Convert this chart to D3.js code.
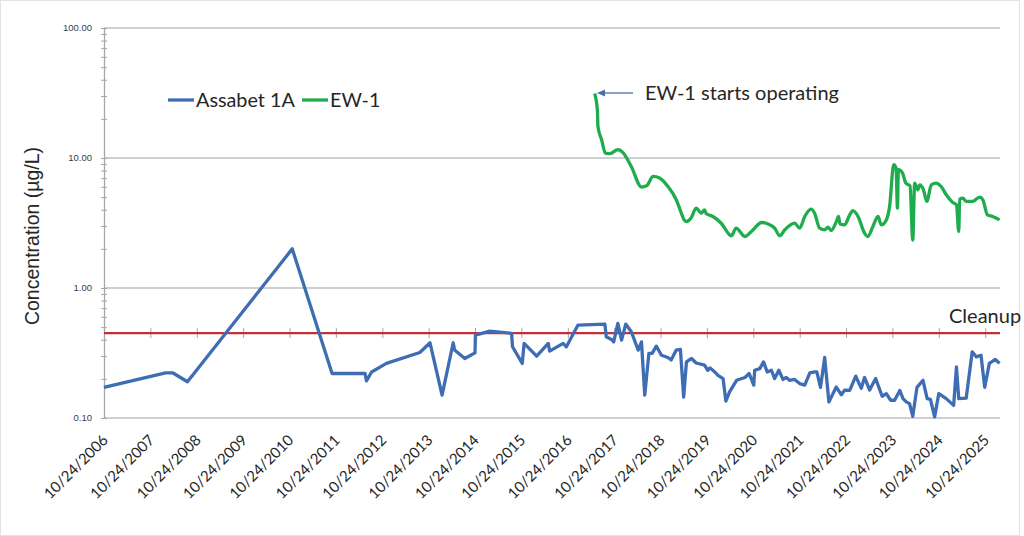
<!DOCTYPE html>
<html><head><meta charset="utf-8">
<script src="https://cdn.jsdelivr.net/npm/d3@7/dist/d3.min.js"></script>
<style>body{margin:0;background:#fff}svg{display:block}</style>
</head><body><svg id="c" width="1024" height="536"></svg>
<script>
// ---- data (dates as decimal years, values in µg/L) ----
const assabetT = [2006.81,2008.14,2008.30,2008.61,2010.87,2011.73,2012.44,2012.47,2012.58,2012.90,2013.62,2013.84,2014.10,2014.34,2014.37,2014.59,2014.81,2014.82,2015.13,2015.60,2015.62,2015.83,2015.87,2016.14,2016.39,2016.42,2016.71,2016.78,2017.03,2017.61,2017.64,2017.75,2017.80,2017.89,2017.97,2018.06,2018.18,2018.33,2018.40,2018.47,2018.56,2018.63,2018.72,2018.83,2018.97,2019.04,2019.15,2019.24,2019.31,2019.37,2019.48,2019.58,2019.76,2019.83,2019.88,2019.98,2020.05,2020.16,2020.22,2020.30,2020.45,2020.63,2020.72,2020.82,2020.84,2020.95,2021.03,2021.11,2021.20,2021.27,2021.36,2021.45,2021.52,2021.59,2021.70,2021.81,2021.92,2022.03,2022.13,2022.18,2022.26,2022.35,2022.44,2022.60,2022.71,2022.78,2022.89,2023.02,2023.14,2023.21,2023.32,2023.45,2023.59,2023.68,2023.77,2023.86,2023.97,2024.04,2024.11,2024.18,2024.25,2024.34,2024.47,2024.56,2024.63,2024.72,2024.81,2024.97,2025.13,2025.19,2025.24,2025.40,2025.53,2025.62,2025.72,2025.80,2025.90,2026.03,2026.12];
const assabetV = [0.172,0.222,0.222,0.190,2.0,0.220,0.220,0.193,0.226,0.263,0.319,0.379,0.150,0.379,0.333,0.287,0.317,0.434,0.466,0.448,0.353,0.263,0.375,0.299,0.375,0.327,0.375,0.353,0.519,0.528,0.421,0.402,0.385,0.535,0.397,0.528,0.461,0.333,0.385,0.150,0.314,0.314,0.357,0.304,0.292,0.279,0.333,0.337,0.145,0.270,0.287,0.265,0.255,0.233,0.243,0.226,0.213,0.201,0.135,0.159,0.195,0.205,0.220,0.179,0.233,0.240,0.270,0.226,0.233,0.201,0.233,0.198,0.205,0.195,0.198,0.184,0.179,0.222,0.226,0.226,0.172,0.292,0.133,0.173,0.151,0.164,0.163,0.210,0.169,0.205,0.164,0.201,0.147,0.154,0.137,0.137,0.163,0.141,0.133,0.129,0.103,0.172,0.195,0.141,0.139,0.102,0.154,0.141,0.125,0.247,0.141,0.142,0.323,0.295,0.304,0.172,0.263,0.282,0.263];
const ew1T = [2017.39,2017.45,2017.46,2017.54,2017.62,2017.72,2017.89,2018.00,2018.18,2018.40,2018.51,2018.65,2018.79,2018.97,2019.15,2019.26,2019.32,2019.37,2019.47,2019.58,2019.69,2019.76,2019.80,2019.94,2020.12,2020.34,2020.44,2020.63,2020.77,2020.99,2021.13,2021.27,2021.38,2021.49,2021.70,2021.81,2021.92,2022.06,2022.13,2022.24,2022.35,2022.42,2022.49,2022.60,2022.65,2022.68,2022.78,2022.89,2022.96,2023.07,2023.21,2023.28,2023.39,2023.50,2023.57,2023.68,2023.75,2023.84,2023.89,2023.92,2023.94,2024.03,2024.10,2024.19,2024.25,2024.29,2024.36,2024.40,2024.48,2024.55,2024.65,2024.75,2024.86,2024.97,2025.11,2025.19,2025.24,2025.26,2025.33,2025.40,2025.54,2025.69,2025.76,2025.86,2025.97,2026.12];
const ew1V = [31.3,22.9,17.5,13.8,10.9,10.8,11.6,11.0,8.61,5.98,6.11,7.21,7.01,6.04,4.77,3.77,3.34,3.24,3.45,4.12,3.77,3.99,3.72,3.55,3.15,2.52,2.89,2.49,2.72,3.19,3.11,2.89,2.52,2.80,3.15,2.89,3.55,4.04,3.77,2.89,2.80,2.94,2.77,3.24,3.55,3.11,3.06,3.65,3.94,3.55,2.64,2.49,2.97,3.55,3.06,3.34,4.24,8.88,8.37,4.12,8.13,7.66,6.41,6.11,2.34,6.41,5.70,6.22,5.70,4.63,6.22,6.41,6.04,5.21,4.55,4.36,2.72,4.83,4.92,4.63,4.63,5.00,4.77,3.65,3.55,3.34];
const cleanupLevel = 0.45;
const tickLabels = ["10/24/2006","10/24/2007","10/24/2008","10/24/2009","10/24/2010","10/24/2011","10/24/2012","10/24/2013","10/24/2014","10/24/2015","10/24/2016","10/24/2017","10/24/2018","10/24/2019","10/24/2020","10/24/2021","10/24/2022","10/24/2023","10/24/2024","10/24/2025"];
const yTickValues = [0.1, 1, 10, 100];
const seriesNames = ["Assabet 1A", "EW-1"];

// ---- helpers ----
function toDate(t){const y=Math.floor(t);const s=new Date(y,0,1),e=new Date(y+1,0,1);return new Date(+s+(t-y)*(e-s));}
const parse = d3.timeParse("%m/%d/%Y");

const svg = d3.select("#c");
const L=104,R=1000,T=28,B=418;
const x = d3.scaleTime().domain([parse("10/24/2006"), toDate(2026.13)]).range([L,R]);
const y = d3.scaleLog().domain([0.1,100]).range([B,T]);

const cBlue="#3f6db3", cGreen="#1fac4c", cRed="#c23139", cGrid="#bfbfbf";
const fCal = "Lato, Carlito, sans-serif";

svg.append("rect").attr("x",0.5).attr("y",0.5).attr("width",1019).attr("height",535).attr("fill","none").attr("stroke","#e3e3e3");

// gridlines
svg.append("g").selectAll("line").data(yTickValues).join("line")
  .attr("x1",L).attr("x2",R).attr("y1",d=>y(d)).attr("y2",d=>y(d))
  .attr("stroke",cGrid).attr("stroke-width",1.3);

// y axis with minor ticks
const minor=[];
for(let e=-1;e<2;e++) for(let k=1;k<=10;k++) minor.push(k*Math.pow(10,e));
const yAxis = d3.axisLeft(y).tickValues(minor).tickSize(0).tickFormat("");
const gy = svg.append("g").attr("transform",`translate(${L},0)`).call(yAxis);
gy.select(".domain").attr("stroke","#a6a6a6").attr("stroke-width",1.3);
gy.selectAll(".tick").append("line").attr("x1",-3).attr("x2",3).attr("stroke","#a6a6a6");
svg.append("g").selectAll("text").data(yTickValues).join("text")
  .attr("x",92).attr("y",d=>y(d)+3).attr("text-anchor","end")
  .attr("font-family","Liberation Sans, Arial, sans-serif").attr("font-size",9.5).attr("fill","#404040")
  .text(d=>d3.format(".2f")(d));

// x axis line (cleanup level) with ticks
const tickDates = tickLabels.map(parse);
const xAxis = d3.axisBottom(x).tickValues(tickDates).tickSize(0).tickFormat("");
const gx = svg.append("g").attr("transform",`translate(0,${y(cleanupLevel)})`).call(xAxis);
gx.select(".domain").remove();
gx.selectAll(".tick").append("line").attr("y1",-5).attr("y2",5).attr("stroke","#a6a6a6");
svg.append("line").attr("x1",L).attr("x2",R).attr("y1",y(cleanupLevel)).attr("y2",y(cleanupLevel))
  .attr("stroke",cRed).attr("stroke-width",2.2);

// x labels
svg.append("g").selectAll("text").data(tickLabels).join("text")
  .attr("transform",d=>`translate(${x(parse(d))+5},${B+23}) rotate(-45)`)
  .attr("text-anchor","end")
  .attr("font-family",fCal).attr("font-size",15).attr("fill","#262626")
  .text(d=>d);

// lines
const line = d3.line().x(d=>x(d[0])).y(d=>y(d[1]));
svg.append("path").datum(assabetT.map((t,i)=>[toDate(t),assabetV[i]]))
  .attr("d",line).attr("fill","none").attr("stroke",cBlue).attr("stroke-width",3.3).attr("stroke-linejoin","round");
svg.append("path").datum(ew1T.map((t,i)=>[toDate(t),ew1V[i]]))
  .attr("d",line.curve(d3.curveMonotoneX)).attr("fill","none").attr("stroke",cGreen).attr("stroke-width",3.3).attr("stroke-linejoin","round");

// axis title
svg.append("text").attr("transform","translate(39,236) rotate(-90)").attr("text-anchor","middle")
  .attr("font-family","Liberation Sans, Arial, sans-serif").attr("font-size",19.5).attr("fill","#262626")
  .text("Concentration (µg/L)");

// legend
const lg = svg.append("g").attr("font-family",fCal).attr("font-size",19.8).attr("fill","#262626");
lg.append("line").attr("x1",168).attr("x2",194).attr("y1",100).attr("y2",100).attr("stroke",cBlue).attr("stroke-width",3.3);
lg.append("text").attr("x",196).attr("y",107).text(seriesNames[0]);
lg.append("line").attr("x1",302).attr("x2",328).attr("y1",100).attr("y2",100).attr("stroke",cGreen).attr("stroke-width",3.3);
lg.append("text").attr("x",330).attr("y",107).text(seriesNames[1]);

// annotation arrow
svg.append("line").attr("x1",633).attr("x2",603).attr("y1",93).attr("y2",93).attr("stroke","#4a6ea8").attr("stroke-width",1.3);
svg.append("path").attr("d","M597,93 L605,89.5 L605,96.5 Z").attr("fill","#4a6ea8");
svg.append("text").attr("x",645).attr("y",100).attr("font-family",fCal).attr("font-size",20).attr("fill","#262626").text("EW-1 starts operating");
svg.append("text").attr("x",949).attr("y",323).attr("font-family",fCal).attr("font-size",20).attr("fill","#262626").text("Cleanup");
</script></body></html>
